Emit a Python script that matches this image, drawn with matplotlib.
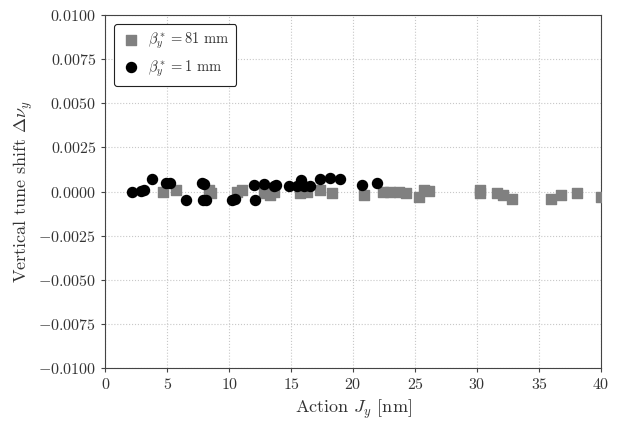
#Importing libraries
import numpy as np
import matplotlib.pyplot as plt
from matplotlib.ticker import FormatStrFormatter

plt.rcParams['font.family'] = 'serif'
plt.rcParams['font.serif'] = ['cmr10']
plt.rcParams['mathtext.fontset'] = 'cm'
plt.rcParams['axes.formatter.use_mathtext'] = True
plt.rcParams['axes.unicode_minus'] = True

#Data
J_81 = [4.7, 5.7, 8.4, 8.5, 10.6, 11.0, 12.8, 13.3, 13.6, 15.7, 16.3, 17.3, 18.3,
        20.9, 22.4, 23.0, 23.7, 24.3, 25.3, 25.7, 26.1, 30.2, 30.2, 31.6, 32.1,
        32.8, 36.0, 36.8, 38.1, 40.0]
dq_81 = [0.0, 0.0001, 0.0001, -0.0001, 0.0, 0.0001, -0.0001, -0.0002, -0.00005,
         -0.0001, -0.00005, 0.0001, -0.0001, -0.0002, -0.00005, 0.0, 0.0, -0.0001,
         -0.0003, 0.0001, 0.00005, 0.0001, -0.0001, -0.0001, -0.0002, -0.0004,
         -0.0004, -0.0002, -0.0001, -0.0003]

J_1 = [2.15, 2.85, 3.15, 3.76, 4.9, 5.2, 6.5, 7.8, 8.0, 7.9, 8.1, 10.2, 10.5,
       12.0, 12.1, 12.8, 13.6, 13.8, 14.8, 15.5, 15.8, 16.05, 16.5, 17.3, 18.1,
       18.9, 20.7, 21.9]
dq_1 = [0.0, 0.00005, 0.0001, 0.0007, 0.00047, 0.0005, -0.0005, 0.00048, 0.0004,
        -0.0005, -0.00048, -0.0005, -0.00045, 0.00035, -0.0005, 0.0004, 0.0003,
        0.00035, 0.0003, 0.0003, 0.00065, 0.0003, 0.0003, 0.0007, 0.00075, 0.0007,
        0.00037, 0.00046]

#Visualising
text_col = '#333333'
fig = plt.figure(figsize=(6.19, 4.21), dpi=100)
ax = fig.add_axes([0.17, 0.126, 0.801, 0.838])
ax.scatter(J_81, dq_81, marker='s', color='grey', s=42, label=r'$\beta_y^* = 81$ mm', zorder=3)
ax.scatter(J_1, dq_1, marker='o', color='black', s=52, label=r'$\beta_y^* = 1$ mm', zorder=3)
ax.set_xlim(0, 40)
ax.set_ylim(-0.01, 0.01)
ax.set_yticks(np.arange(-0.01, 0.01001, 0.0025))
ax.yaxis.set_major_formatter(FormatStrFormatter(r'$%.4f$'))
ax.xaxis.set_major_formatter(FormatStrFormatter(r'$%d$'))
ax.grid(True, linestyle=':', color='#c8c8c8', linewidth=0.8)
ax.set_axisbelow(True)
for sp in ax.spines.values():
    sp.set_color('#444444')
ax.set_xlabel(r'Action $J_y$ [nm]', fontsize=13, color=text_col, labelpad=4)
ax.set_ylabel(r'Vertical tune shift $\Delta\nu_y$', fontsize=13, color=text_col, labelpad=2)
ax.tick_params(labelsize=11.5, colors='#444444', labelcolor=text_col, length=3)
leg = ax.legend(loc='upper left', fontsize=10.5, edgecolor='#222222', fancybox=True,
                framealpha=1, handletextpad=0.4, borderpad=0.45, labelspacing=0.5,
                handlelength=1.5, borderaxespad=0.6)
leg.get_frame().set_linewidth(0.8)
for t in leg.get_texts():
    t.set_color(text_col)
plt.savefig('out.png', dpi=100)
